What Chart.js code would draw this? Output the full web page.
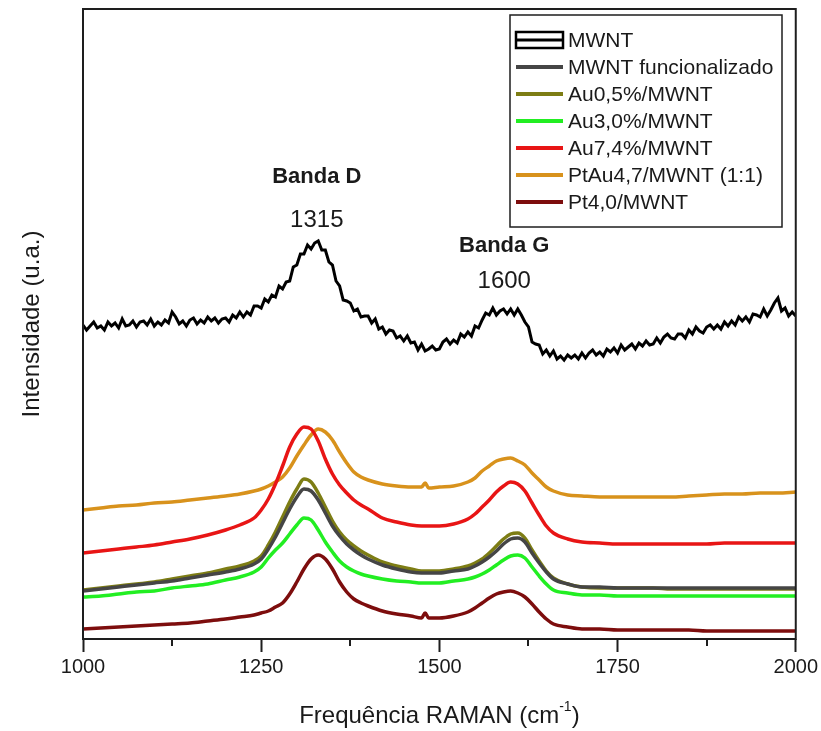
<!DOCTYPE html>
<html>
<head>
<meta charset="utf-8">
<script src="https://cdn.jsdelivr.net/npm/chart.js@4.4.1/dist/chart.umd.min.js"></script>
<style>
  html, body { margin: 0; padding: 0; background: #fff; }
  #wrap { width: 821px; height: 731px; }
</style>
</head>
<body>
<div id="wrap"><canvas id="raman-chart" width="821" height="731"></canvas></div>
<script>
// Raman spectra, arbitrary intensity units (curves are stacked with offsets)
const wavenumbers = [1000,1025,1050,1075,1100,1125,1150,1175,1200,1220,1240,1250,1260,1270,1280,1290,1300,1310,1320,1330,1340,1350,1360,1370,1380,1390,1400,1420,1440,1460,1475,1480,1485,1500,1520,1540,1550,1560,1570,1580,1590,1600,1610,1620,1630,1640,1650,1660,1680,1700,1725,1750,1775,1800,1825,1850,1875,1900,1925,1950,1975,2000];

const mwntFunc = [48,50,52,54,56,58,61,64,67,70, 75,80,90,102,116,130,142,150,148,139, 126,113,103,95,89,84,80,74,70,67, 66,66,66,66,68,70,73,77,82,88, 95,100,101,97,86,76,67,60,55,52, 52,51,51,51,51,51,51,51,51,51,51,51];
const au05 = [49,51,53,55,57,60,63,66,70,73, 78,83,94,107,122,137,150,160,157,146, 132,118,107,99,93,88,84,77,73,70, 68,68,68,68,70,73,76,80,86,93, 100,105,106,101,89,78,68,61,55,52, 51,51,51,51,50,50,50,50,50,50,50,50];
const au30 = [42,43,45,47,48,51,53,55,59,62, 67,72,81,89,96,105,114,121,119,109, 97,87,78,72,68,65,63,60,58,57, 56,56,56,56,58,60,62,65,69,74, 79,83,84,81,72,63,55,49,46,44, 44,43,43,43,43,43,43,43,43,43,43,43];
const au74 = [86,88,90,92,94,97,100,104,109,114, 121,129,140,155,173,192,205,212,210,198, 180,165,154,146,139,134,130,121,117,114, 113,113,113,113,115,120,125,132,139,147, 153,157,155,148,136,124,113,106,100,97, 96,95,95,95,95,95,95,96,96,96,96,96];
const ptau47 = [129,131,133,134,136,137,139,141,143,145, 148,150,153,157,162,171,183,194,204,210, 207,199,187,176,167,162,159,155,153,152, 152,156,151,152,153,157,161,168,173,178, 180,181,178,174,166,159,152,148,144,143, 142,142,142,142,142,143,144,145,145,146,146,147];
const pt40 = [10,11,12,13,14,15,16,18,20,22, 24,26,28,32,36,45,57,70,80,84, 80,70,57,47,40,36,33,28,25,23, 21,26,21,21,23,27,31,36,41,45, 47,48,46,42,35,27,20,15,12,10, 10,9,9,9,9,9,8,8,8,8,8,8];

// pristine MWNT, sampled every 5 cm-1 from 1000 to 2000
const wavenumbersMWNT = Array.from({ length: 201 }, (_, i) => 1000 + 5 * i);
const mwnt = [
  314,309,313,317,311,313,309,317,313,316,311,320,313,314,318,312,317,318,314,320,
  313,317,314,319,316,327,322,315,318,313,319,321,315,319,316,322,318,321,316,320,
  321,317,324,321,327,322,327,324,333,333,331,340,337,344,342,353,350,357,358,372,
  374,385,385,394,390,396,398,389,389,377,374,358,353,339,338,336,328,330,322,323,
  323,316,320,310,312,305,309,308,301,303,298,303,296,297,289,295,288,290,293,289,
  290,297,300,295,299,296,305,302,307,303,313,311,319,326,324,331,324,328,330,325,
  330,324,330,324,317,312,297,295,294,285,289,283,288,280,283,279,284,281,284,280,
  286,281,286,289,284,287,283,290,287,291,286,294,289,292,295,290,296,293,298,294,
  295,301,296,302,305,301,300,305,305,301,309,305,312,308,306,312,314,310,314,310,
  317,313,318,314,322,318,322,317,325,324,322,330,323,329,336,341,328,331,323,327,323
];

const seriesNames = ['MWNT', 'MWNT funcionalizado', 'Au0,5%/MWNT', 'Au3,0%/MWNT', 'Au7,4%/MWNT', 'PtAu4,7/MWNT (1:1)', 'Pt4,0/MWNT'];
const seriesColors = ['#000000', '#454545', '#7d7d14', '#22ee22', '#e81515', '#d8921c', '#7d0d0d'];

const xTicks = [1000, 1250, 1500, 1750, 2000];
const minorTicks = [1125, 1375, 1625, 1875];

// peak annotations: title, wavenumber text, anchor x, anchor heights for title / number
const bandTitles = ['Banda D', 'Banda G'];
const bandValues = ['1315', '1600'];
const bandAnchorX = [1328, 1591];
const bandTitleY = [462, 393];
const bandValueY = [419, 358];

const toPoints = (xs, ys) => ys.map((v, i) => ({ x: xs[i], y: v }));

const lowerSeries = [mwntFunc, au05, au30, au74, ptau47, pt40];
const datasets = [{
  label: seriesNames[0],
  data: toPoints(wavenumbersMWNT, mwnt),
  borderColor: seriesColors[0],
  borderWidth: 3,
  pointRadius: 0,
  tension: 0
}];
lowerSeries.forEach((values, i) => {
  datasets.push({
    label: seriesNames[i + 1],
    data: toPoints(wavenumbers, values),
    borderColor: seriesColors[i + 1],
    borderWidth: 3.5,
    pointRadius: 0,
    cubicInterpolationMode: 'monotone'
  });
});

const textColor = '#1a1a1a';
const fontFamily = "'Liberation Sans', Arial, sans-serif";

const ramanDecor = {
  id: 'ramanDecor',
  afterDatasetsDraw(chart) {
    const { ctx, chartArea: area, scales: { x, y } } = chart;
    ctx.save();

    // plot frame
    ctx.strokeStyle = '#1e1e1e';
    ctx.lineWidth = 2;
    ctx.strokeRect(area.left, area.top, area.right - area.left, area.bottom - area.top);

    // short minor ticks under the axis
    ctx.beginPath();
    minorTicks.forEach(v => {
      const px = Math.round(x.getPixelForValue(v));
      ctx.moveTo(px, area.bottom);
      ctx.lineTo(px, area.bottom + 7);
    });
    ctx.stroke();

    // band labels
    ctx.fillStyle = textColor;
    ctx.textAlign = 'center';
    ctx.textBaseline = 'middle';
    bandTitles.forEach((t, i) => {
      const px = x.getPixelForValue(bandAnchorX[i]);
      ctx.font = 'bold 22px ' + fontFamily;
      ctx.fillText(t, px, y.getPixelForValue(bandTitleY[i]));
      ctx.font = '24px ' + fontFamily;
      ctx.fillText(bandValues[i], px, y.getPixelForValue(bandValueY[i]));
    });

    // legend box
    const lx = 510, ly = 15, lw = 272, lh = 212, rowH = 27;
    ctx.fillStyle = '#fff';
    ctx.fillRect(lx, ly, lw, lh);
    ctx.strokeStyle = '#1e1e1e';
    ctx.lineWidth = 1.5;
    ctx.strokeRect(lx, ly, lw, lh);
    ctx.textAlign = 'left';
    ctx.font = '21px ' + fontFamily;
    chart.data.datasets.forEach((ds, i) => {
      const cy = ly + 25 + i * rowH;
      if (i === 0) {
        ctx.strokeStyle = ds.borderColor;
        ctx.lineWidth = 2.5;
        ctx.strokeRect(516, cy - 8, 47, 16);
        ctx.beginPath();
        ctx.moveTo(516, cy);
        ctx.lineTo(563, cy);
        ctx.lineWidth = 3;
        ctx.stroke();
      } else {
        ctx.strokeStyle = ds.borderColor;
        ctx.lineWidth = 4;
        ctx.beginPath();
        ctx.moveTo(516, cy);
        ctx.lineTo(563, cy);
        ctx.stroke();
      }
      ctx.fillStyle = textColor;
      ctx.fillText(ds.label, 568, cy + 1);
    });

    // axis titles
    ctx.font = '24px ' + fontFamily;
    const xTitle = 'Frequência RAMAN (cm';
    const sup = '-1';
    const close = ')';
    const w1 = ctx.measureText(xTitle).width;
    const w3 = ctx.measureText(close).width;
    ctx.font = '14px ' + fontFamily;
    const w2 = ctx.measureText(sup).width;
    const cx = (area.left + area.right) / 2;
    const tx = cx - (w1 + w2 + w3) / 2;
    const ty = 716;
    ctx.font = '24px ' + fontFamily;
    ctx.fillText(xTitle, tx, ty);
    ctx.font = '14px ' + fontFamily;
    ctx.fillText(sup, tx + w1, ty - 9);
    ctx.font = '24px ' + fontFamily;
    ctx.fillText(close, tx + w1 + w2, ty);

    ctx.translate(32, (area.top + area.bottom) / 2);
    ctx.rotate(-Math.PI / 2);
    ctx.textAlign = 'center';
    ctx.fillText('Intensidade (u.a.)', 0, 0);

    ctx.restore();
  }
};

new Chart(document.getElementById('raman-chart'), {
  type: 'line',
  data: { datasets },
  options: {
    responsive: false,
    animation: false,
    layout: { padding: { left: 83, top: 9, right: 25, bottom: 0 } },
    plugins: { legend: { display: false }, tooltip: { enabled: false } },
    scales: {
      x: {
        type: 'linear',
        min: 1000,
        max: 2000,
        afterFit: scale => { scale.height = 92; },
        afterBuildTicks: scale => { scale.ticks = xTicks.map(v => ({ value: v })); },
        border: { display: false },
        grid: {
          drawOnChartArea: false,
          drawTicks: true,
          tickLength: 13,
          tickWidth: 2,
          tickColor: '#1e1e1e'
        },
        ticks: {
          color: textColor,
          padding: 3,
          maxRotation: 0,
          font: { family: fontFamily, size: 20 },
          callback: value => String(value)
        }
      },
      y: {
        min: 0,
        max: 630,
        afterFit: scale => { scale.width = 0; },
        border: { display: false },
        grid: { display: false },
        ticks: { display: false }
      }
    }
  },
  plugins: [ramanDecor]
});
</script>
</body>
</html>
